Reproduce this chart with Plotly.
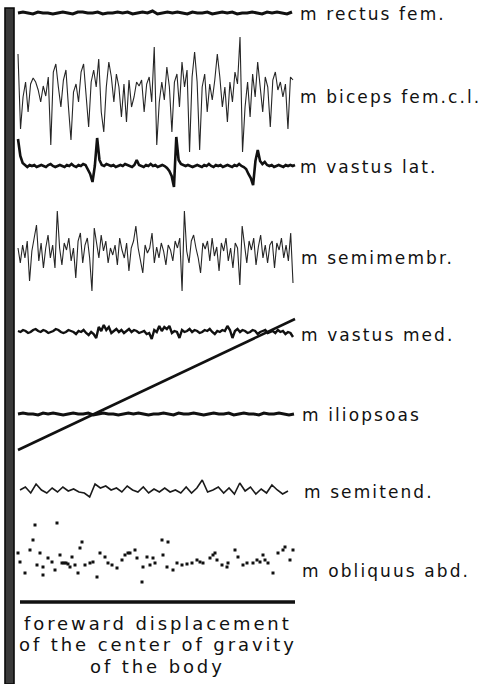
import numpy as np
import plotly.graph_objects as go

# ---------------------------------------------------------------------------
# EMG recordings of eight muscles during forward displacement of the centre
# of gravity.  Time runs 0..275 (arbitrary units); amplitudes are positive up.
# ---------------------------------------------------------------------------
muscles = [
    "m rectus fem.", "m biceps fem.c.l.", "m vastus lat.", "m semimembr.",
    "m vastus med.", "m iliopsoas", "m semitend.", "m obliquus abd.",
]

rectus_fem = [0, 1, 0, -1, 1, 0, 0, -1, 0, 1, 0, -1, 1, 1, 0, 0, 1, -1, 0, 0,
              1, 0, 1, -1, 0, 1, 0, 2, -1, 0, 1, 0, 1, 0, -1, 1, 0, 0, 1, -1,
              0, 1, 0, 1, -1, 0, 0, 1, 0, -1, 1, 0, 1, 0, -1, 1]

biceps_fem = [38, -37, -5, 10, -20, 8, 14, 10, 2, -10, 6, -4, 15, -53, 20, 28,
              5, -15, 12, 22, -15, -48, 0, 8, -10, 20, 28, -5, -35, 10, 22, 5,
              33, -20, -40, 5, 30, 15, -10, 18, 5, -25, 8, -30, 12, -15, -5,
              10, 6, 12, -20, 8, 15, -10, 45, -53, -10, 10, -8, 25, 5, -40, 10,
              18, -15, 30, 5, 22, -60, 15, 40, 10, -58, 5, 18, -20, 8, -8, 12,
              38, 15, -15, 5, -30, 10, -10, 20, 8, 55, -60, -15, 10, -25, 18,
              -5, 30, 8, -20, 15, 5, -35, 12, 20, 2, 10, -5, 8, -37, 15, 12]

vastus_lat = [27, 10, 3, 1, -1, 1, 0, 1, -1, 0, 1, 0, -1, 1, 2, 0, -1, 0, 1, 0,
              -1, 1, 0, 2, 0, -1, 1, 0, 2, 1, -3, -8, -16, 0, 28, 6, 1, 0, 2, 1,
              0, 1, -1, 0, 1, 0, 2, 1, 0, -1, 1, 6, 1, 0, -1, 1, 0, 2, 0, 1,
              -1, 0, 1, 0, -2, -5, -10, -21, 29, 6, 2, 1, 0, 1, 0, -1, 0, 1, 0, -1,
              1, 0, 2, 0, -1, 1, 0, 1, -1, 0, 1, 0, -1, 1, 0, 2, 0, -1, -3, -8,
              -12, -19, 5, 16, 5, 2, 4, 1, 0, 1, -1, 0, 1, 0, -1, 1, 0, 1, 0, 1]

semimembr = [5, -10, 8, -5, 12, -28, 2, 15, 28, -8, 10, -15, 5, 18, -5, 8, -15,
             42, 5, -12, 10, 3, 15, -8, 5, -25, 12, 20, -10, 8, 15, -5, -38, 25,
             10, -5, 18, 2, 12, -10, 5, -2, 8, -12, 15, 3, -5, 10, -18, 5, 12,
             27, 5, -8, -20, 8, 0, 5, 20, -10, 6, -5, 10, 2, -12, 8, 3, -8, 12,
             5, 15, -38, 42, 2, -10, 12, 18, 5, -5, -20, 10, 4, 12, -8, 15, -3,
             6, -18, 10, 2, 15, -8, 5, -15, 10, 5, -32, 27, 8, -10, 12, 3, 15,
             -12, 6, 18, -5, 8, -10, 8, 12, -15, 10, 3, 15, -5, 8, -8, 20, -30]

vastus_med = [1, 0, 2, 1, -1, 0, 2, 3, 1, 0, 2, 1, -1, 0, 1, 3, 2, 0, -1, 0,
              2, 1, 0, -2, 1, 0, 2, -1, -3, 0, -2, -6, 5, 1, 7, 2, 5, -1, 1, 3,
              0, 2, -1, 1, 3, 0, 2, 1, -1, 0, 1, -2, -1, -7, 2, 0, 6, 1, 5, 3,
              6, -1, 1, 0, -6, 2, 0, 1, 3, 0, 2, 1, -1, 0, 2, 1, 3, 0, -2, 1,
              0, 2, 1, 6, 2, -6, 1, 3, 0, 2, 1, -1, 0, 2, 1, -2, 0, 1, 2, -1,
              0, 1, -1, 2, 0, 1, -2, 0, -1, -5]

iliopsoas = [0, 1, 0, 0, -1, 1, 0, 1, 0, -1, 0, 1, 0, 0, 1, -1, 0, 1, 0, 0,
             -1, 0, 1, 0, 1, 0, -1, 0, 0, 1, 0, -1, 1, 0, 0, 1, 0, -1, 0, 1,
             0, 0, 1, -1, 0, 1, 0, 0, -1, 1, 0, 0, 1, 0, -1, 0]

semitend = [0, 3, -3, 6, 0, -3, 2, -2, 3, -1, 1, -2, -3, -7, 6, 2, 4, 0, 2, -2,
            4, 0, -2, 3, -3, 1, -2, 2, -2, 0, -3, 3, -3, 2, 10, -2, 0, 3, -3, 2,
            -4, 7, -1, 3, -4, 1, -3, 5, 0, -4, -1]

# scattered discharges of m obliquus abdominis: (time, amplitude)
obliquus_t = [0, 2, 7, 12, 15, 17, 39, 22, 19, 25, 25, 30, 34, 37, 42, 44, 46,
              48, 50, 52, 54, 57, 60, 62, 64, 67, 72, 75, 79, 82, 87, 90, 94,
              99, 104, 107, 110, 112, 117, 119, 124, 125, 129, 132, 135, 137,
              144, 145, 149, 150, 155, 159, 164, 169, 174, 179, 182, 185, 192,
              195, 197, 199, 204, 209, 210, 217, 220, 225, 229, 235, 239, 242,
              245, 247, 250, 255, 260, 265, 267, 272, 275]
obliquus_v = [12, 3, -8, 15, 25, 40, 42, 12, 0, -2, -10, 7, 3, -5, 10, 2, 2,
              2, 1, -2, 8, 0, -8, 17, 23, 0, 2, 3, -12, 12, 8, 2, 0, -3, 5, 10,
              12, 12, 15, 7, -17, -2, 8, 0, 7, 2, 25, 10, -2, 23, -5, 2, 0, 1,
              2, 5, 3, 2, 7, 10, 12, 5, 0, -2, 2, 15, 8, 0, 2, 2, 5, 3, 10, 5,
              2, -8, 12, 15, 18, 5, 15]

# centre-of-gravity displacement ramp
cog_t = [0, 277]
cog_disp = [0, 131]

# ---------------------------------------------------------------------------
# layout of the tracing (vertical lanes, label placement, stroke styles)
# ---------------------------------------------------------------------------
series = [rectus_fem, biceps_fem, vastus_lat, semimembr, vastus_med, iliopsoas,
          semitend, None]
spans = [(0, 274), (0, 275), (0, 277), (0, 275), (0, 275), (0, 276), (2, 270),
         None]
lane_y = [13, 92, 166, 253, 332, 414, 490, 565]
label_y = [14, 97, 167, 258, 335, 415, 492, 571]
label_t = [280, 280, 280, 281, 281, 282, 284, 282]
widths = [3, 1.1, 2.6, 1.1, 2.4, 3, 1.6, None]
colors = ["#111", "#262626", "#111", "#262626", "#111", "#111", "#1a1a1a", None]

cog_base = 450
ref_line_y = 602

fig = go.Figure()

for vals, span, base, w, c in zip(series, spans, lane_y, widths, colors):
    if vals is None:
        continue
    t = np.linspace(span[0], span[1], len(vals))
    y = base - np.asarray(vals, dtype=float)
    fig.add_trace(go.Scatter(x=t, y=y, mode="lines",
                             line=dict(color=c, width=w, shape="linear"),
                             hoverinfo="skip", showlegend=False))

fig.add_trace(go.Scatter(x=obliquus_t, y=lane_y[7] - np.asarray(obliquus_v),
                         mode="markers",
                         marker=dict(color="#111", size=3, symbol="square"),
                         hoverinfo="skip", showlegend=False))

fig.add_trace(go.Scatter(x=cog_t, y=cog_base - np.asarray(cog_disp),
                         mode="lines", line=dict(color="#111", width=2.6),
                         hoverinfo="skip", showlegend=False))

label_font = dict(family="DejaVu Sans", size=17, color="#111")
for name, ty, tx in zip(muscles, label_y, label_t):
    fig.add_annotation(x=tx, y=ty, xanchor="left", yanchor="middle",
                       text=f'<span style="letter-spacing:2.1px">{name}</span>',
                       showarrow=False, font=label_font)

caption = ["foreward displacement", "of the center of gravity", "of the body"]
caption_y = [623, 644.5, 666]
cap_font = dict(family="DejaVu Sans", size=18, color="#111")
for line, cy in zip(caption, caption_y):
    fig.add_annotation(x=139.5, y=cy, xanchor="center", yanchor="middle",
                       text=f'<span style="letter-spacing:2.9px">{line}</span>',
                       showarrow=False, font=cap_font, borderpad=0)

# thick reference line and the vertical time marker bar on the left
fig.add_shape(type="line", x0=2, x1=277, y0=ref_line_y, y1=ref_line_y,
              line=dict(color="#111", width=3.5))
fig.add_shape(type="rect", x0=-13, x1=-4, y0=8, y1=684,
              fillcolor="#3a3a3a", line=dict(color="#0a0a0a", width=1.6))

fig.update_layout(
    width=490, height=684,
    margin=dict(l=0, r=0, t=0, b=0),
    paper_bgcolor="white", plot_bgcolor="white",
    xaxis=dict(range=[-18, 472], visible=False, fixedrange=True),
    yaxis=dict(range=[684, 0], visible=False, fixedrange=True),
    showlegend=False,
)

fig.write_html("out.html")
